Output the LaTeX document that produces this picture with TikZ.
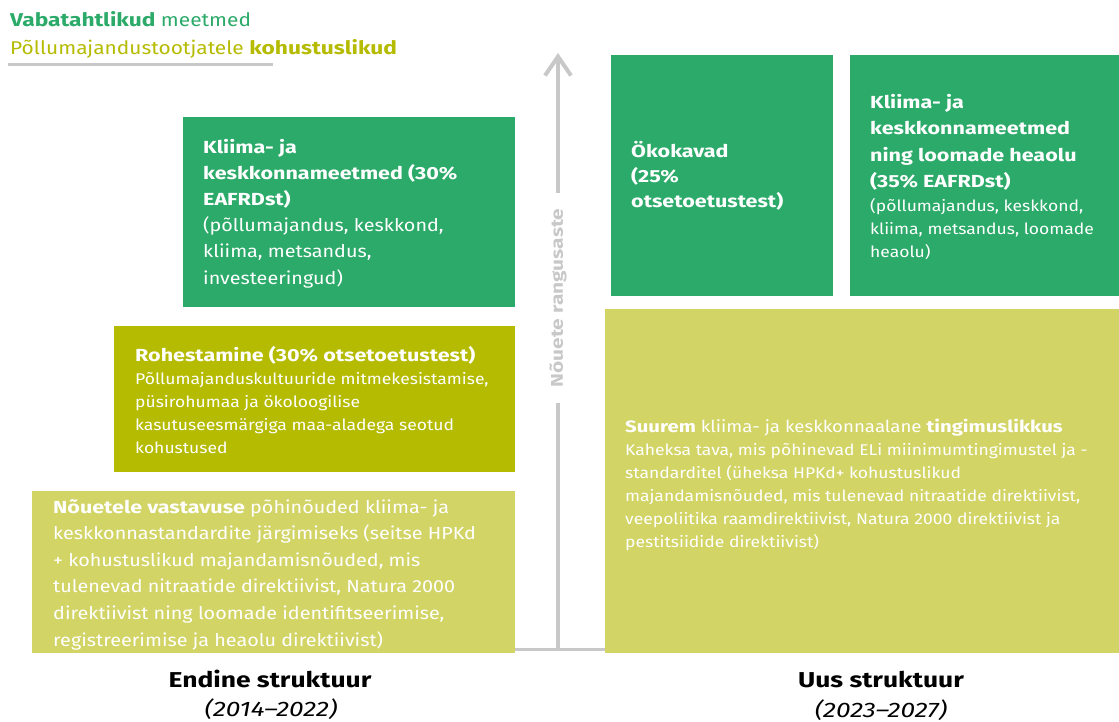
\documentclass[tikz,border=0pt]{standalone}
\usepackage{fontspec}
\setmainfont{Fira Sans}[UprightFeatures={FakeStretch=1.13}, BoldFeatures={FakeStretch=1.23}, ItalicFeatures={FakeStretch=1.25}]
\usetikzlibrary{arrows.meta}
\definecolor{dkgreen}{HTML}{2BAA69}
\definecolor{olive}{HTML}{B5BB00}
\definecolor{lightolive}{HTML}{D2D466}
\definecolor{axisgray}{HTML}{C8C8C8}
\tikzset{
  box/.style={draw=none, inner sep=0pt, anchor=north west},
  txt/.style={inner sep=0pt, anchor=base west, align=left, text=white},
  axisline/.style={draw=axisgray, line width=4pt},
  captext/.style={inner sep=0pt, anchor=base},
}
\begin{document}
\begin{tikzpicture}[x=1pt,y=-1pt]
\useasboundingbox (0,0) rectangle (1119,722);
% legend
\node[txt, text=dkgreen, font=\fontsize{18.5}{27}\selectfont] (leg1) at (10,27) {\textbf{Vabatahtlikud} meetmed};
\node[txt, text=olive, font=\fontsize{18.5}{27}\selectfont] (leg2) at (10,55) {Põllumajandustootjatele \textbf{kohustuslikud}};
\coordinate (lgA) at (8,65);
\coordinate (lgB) at (273,65);
\draw[draw=axisgray, line width=3pt] (lgA) -- (lgB);

% axis
\coordinate (basL) at (515,649);
\coordinate (basR) at (606,649);
\draw[draw=axisgray, line width=3pt] (basL) -- (basR);
\coordinate (axbot) at (558,649);
\coordinate (gapbot) at (558,403);
\coordinate (gaptop) at (558,193);
\coordinate (axtop) at (558,53);
\draw[axisline] (axbot) -- (gapbot);
\draw[axisline, -{Straight Barb[length=19pt,width=26pt]}] (gaptop) -- (axtop);
\node[rotate=90, text=axisgray, font=\fontsize{17}{22}\selectfont\bfseries, inner sep=0pt] (axlab) at (558,298) {Nõuete rangusaste};

% left boxes
\node[box, fill=dkgreen, minimum width=332pt, minimum height=190pt] (kl1) at (183,117) {};
\node[txt, font=\fontsize{17.5}{26.2}\selectfont] (kl1t) at (203,284) {\textbf{Kliima- ja}\\\textbf{keskkonnameetmed (30\%}\\\textbf{EAFRDst)}\\(põllumajandus, keskkond,\\kliima, metsandus,\\investeeringud)};

\node[box, fill=olive, minimum width=401pt, minimum height=146pt] (roh) at (114,326) {};
\node[txt, font=\fontsize{15.5}{23}\selectfont] (roht) at (135,453) {{\fontsize{17.5}{23}\selectfont\textbf{Rohestamine (30\% otsetoetustest)}}\\Põllumajanduskultuuride mitmekesistamise,\\püsirohumaa ja ökoloogilise\\kasutuseesmärgiga maa-aladega seotud\\kohustused};

\node[box, fill=lightolive, minimum width=483pt, minimum height=162pt] (nou) at (32,491) {};
\node[txt, font=\fontsize{17.5}{26.6}\selectfont] (nout) at (53,646) {\textbf{Nõuetele vastavuse} põhinõuded kliima- ja\\keskkonnastandardite järgimiseks (seitse HPKd\\+ kohustuslikud majandamisnõuded, mis\\tulenevad nitraatide direktiivist, Natura 2000\\direktiivist ning loomade identifitseerimise,\\registreerimise ja heaolu direktiivist)};

% right boxes
\node[box, fill=dkgreen, minimum width=222pt, minimum height=241pt] (oko) at (611,55) {};
\node[txt, font=\fontsize{17.5}{25.5}\selectfont\bfseries] (okot) at (631,208) {Ökokavad\\(25\%\\otsetoetustest)};

\node[box, fill=dkgreen, minimum width=269pt, minimum height=241pt] (kl2) at (850,55) {};
\node[txt, font=\fontsize{17.5}{26.6}\selectfont\bfseries] (kl2t) at (870,188) {Kliima- ja\\keskkonnameetmed\\ning loomade heaolu\\(35\% EAFRDst)};
\node[txt, font=\fontsize{15.5}{22.5}\selectfont] (kl2s) at (870,257) {(põllumajandus, keskkond,\\kliima, metsandus, loomade\\heaolu)};

\node[box, fill=lightolive, minimum width=514pt, minimum height=344pt] (suu) at (605,309) {};
\node[txt, font=\fontsize{15.5}{23}\selectfont] (suut) at (625,547) {{\fontsize{16.5}{23}\selectfont\textbf{Suurem} kliima- ja keskkonnaalane \textbf{tingimuslikkus}}\\Kaheksa tava, mis põhinevad ELi miinimumtingimustel ja -\\standarditel (üheksa HPKd+ kohustuslikud\\majandamisnõuded, mis tulenevad nitraatide direktiivist,\\veepoliitika raamdirektiivist, Natura 2000 direktiivist ja\\pestitsiidide direktiivist)};

% captions
\node[captext, font=\fontsize{21.5}{26}\selectfont\bfseries] (endc) at (270,687) {Endine struktuur};
\node[captext, font=\fontsize{21}{24}\selectfont\itshape] (endy) at (271,716) {(2014–2022)};
\node[captext, font=\fontsize{21.5}{26}\selectfont\bfseries] (uusc) at (881,687) {Uus struktuur};
\node[captext, font=\fontsize{21}{24}\selectfont\itshape] (uusy) at (881,717) {(2023–2027)};
\end{tikzpicture}
\end{document}
